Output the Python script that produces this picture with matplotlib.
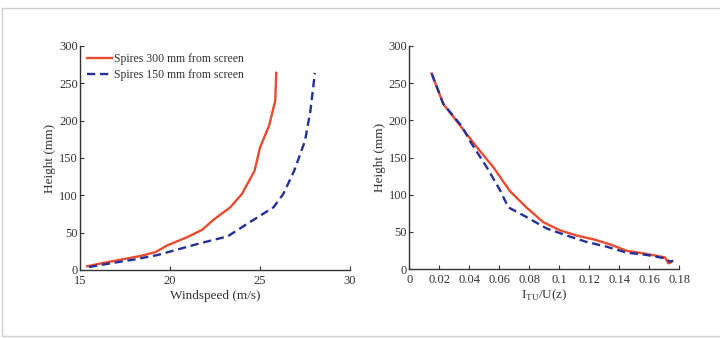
import matplotlib
matplotlib.use("Agg")
import matplotlib.pyplot as plt
from matplotlib.patches import Rectangle

plt.rcParams['font.family'] = ['Liberation Serif', 'DejaVu Serif']
plt.rcParams['mathtext.fontset'] = 'custom'
plt.rcParams['mathtext.rm'] = 'Liberation Serif'

# Left panel: windspeed profiles
ws_300 = [15.4, 16.2, 17.3, 18.4, 19.2, 19.85, 20.96, 21.8, 22.4, 23.35, 24.0, 24.7, 25.0, 25.5, 25.85, 25.9]
h_300 = [5, 9, 14, 19, 24, 33, 44, 54, 67, 84, 102, 133, 164, 193, 227, 264]
ws_150 = [15.5, 16.7, 18.0, 19.3, 20.2, 21.7, 23.2, 24.3, 25.75, 26.3, 26.9, 27.5, 27.8, 28.05]
h_150 = [4, 9, 14, 20, 26, 36, 45, 62, 84, 102, 133, 173, 213, 264]

# Right panel: turbulence intensity profiles
ti_300 = [0.0149, 0.0227, 0.035, 0.045, 0.056, 0.067, 0.078, 0.0893, 0.1005, 0.1116, 0.1227, 0.134, 0.145, 0.156, 0.1705, 0.1727, 0.1745]
th_300 = [263, 222, 190, 164, 137, 105, 83, 63, 52, 45, 40, 33, 24.5, 21, 15.6, 7.6, 9]
ti_150 = [0.0149, 0.0227, 0.035, 0.0405, 0.0516, 0.0605, 0.066, 0.078, 0.0916, 0.105, 0.118, 0.1316, 0.145, 0.158, 0.1705, 0.1738, 0.176]
th_150 = [263, 222, 192, 172, 137, 106, 83, 70, 54.5, 45, 36.5, 30, 22, 19, 14.3, 10, 11]

labels = ['Spires 300 mm from screen', 'Spires 150 mm from screen']
RED = '#ea4a2e'
BLUE = '#23309a'
AX = '#333333'

fig = plt.figure(figsize=(7.2, 3.38), dpi=100)
fig.patches.append(Rectangle((1.5/720, 2/338), 1.0, 328/338, transform=fig.transFigure,
                             fill=False, edgecolor='#cfcfcf', linewidth=1.0))

ax1 = fig.add_axes([80/720, 1 - 270/338, 270/720, 224/338])
ax2 = fig.add_axes([409.3/720, 1 - 269/338, 270/720, 223/338])

ax1.plot(ws_300, h_300, color=RED, lw=1.7, label=labels[0])
ax1.plot(ws_150, h_150, color=BLUE, lw=1.7, ls=(0, (3.5, 2)), label=labels[1])
ax1.set_xlim(15, 30)
ax1.set_ylim(0, 300)
ax1.set_xticks([15, 20, 25, 30])
ax1.set_yticks([0, 50, 100, 150, 200, 250, 300])
ax1.set_xlabel('Windspeed (m/s)', fontsize=9.5, color=AX, labelpad=2)
ax1.set_ylabel('Height (mm)', fontsize=9.5, color=AX, labelpad=2)
leg = ax1.legend(loc='upper left', frameon=False, fontsize=8.5, handlelength=2.1,
                 handletextpad=0.2, borderaxespad=0.2, labelspacing=0.35,
                 bbox_to_anchor=(0.0, 1.0))
for t in leg.get_texts():
    t.set_color(AX)

ax2.plot(ti_300, th_300, color=RED, lw=1.7)
ax2.plot(ti_150, th_150, color=BLUE, lw=1.7, ls=(0, (3.5, 2)))
ax2.set_xlim(0, 0.18)
ax2.set_ylim(0, 300)
ax2.set_xticks([0, 0.02, 0.04, 0.06, 0.08, 0.1, 0.12, 0.14, 0.16, 0.18])
ax2.set_xticklabels(['0', '0.02', '0.04', '0.06', '0.08', '0.1', '0.12', '0.14', '0.16', '0.18'])
ax2.set_yticks([0, 50, 100, 150, 200, 250, 300])
ax2.set_xlabel(r'I$_{\mathrm{TU}}$/U(z)', fontsize=9.5, color=AX, labelpad=1)
ax2.set_ylabel('Height (mm)', fontsize=9.5, color=AX, labelpad=2)

for ax in (ax1, ax2):
    for s in ('top', 'right'):
        ax.spines[s].set_visible(False)
    for s in ('left', 'bottom'):
        ax.spines[s].set_color(AX)
        ax.spines[s].set_linewidth(1.0)
    ax.tick_params(direction='in', length=3, width=0.8, colors=AX, labelsize=9)
    ax.tick_params(axis='x', pad=3.5)
    ax.tick_params(axis='y', pad=1.5)

fig.savefig('out.png', dpi=100)
